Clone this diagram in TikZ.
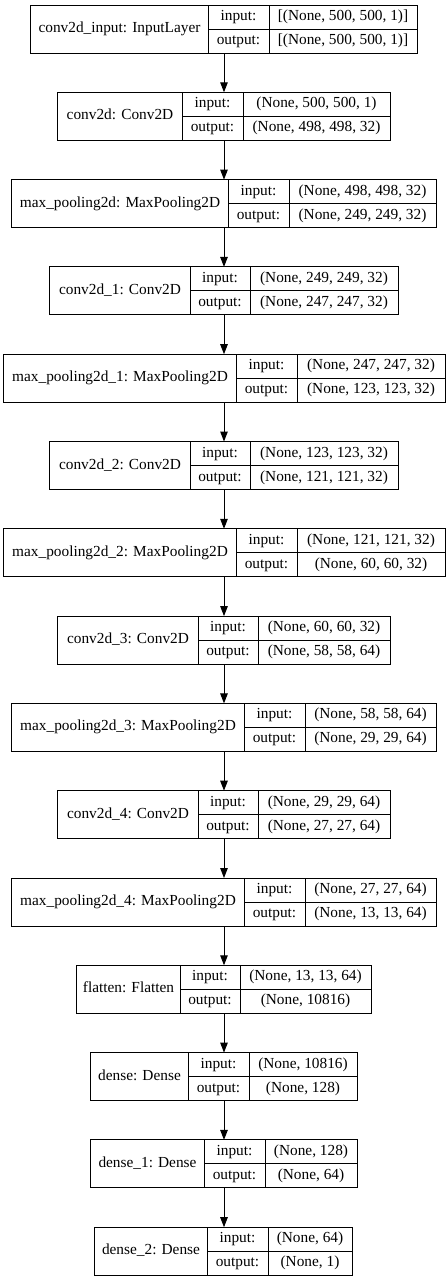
\documentclass[tikz,border=0pt]{standalone}
\usepackage{fontspec}
\setmainfont{Liberation Serif}
\usetikzlibrary{arrows.meta}
\tikzset{
  layerbox/.style={draw, line width=1bp, inner sep=0pt, minimum height=48bp},
  divline/.style={line width=1bp},
  txt/.style={inner sep=0pt, font=\fontsize{15.4}{17}\selectfont, text height=10bp, text depth=3bp},
  conn/.style={-{Triangle[length=10bp,width=7.5bp]}, line width=1bp}
}
% #1 index, #2 name, #3 left, #4 right, #5 divider1, #6 divider2, #7 label, #8 input, #9 output
\newcommand\netlayer[9]{%
  \pgfmathsetmacro\ltop{5+87.3*#1}%
  \pgfmathsetmacro\lw{#4-#3}%
  \node[layerbox, minimum width=\lw bp] (#2) at ({(#3+#4)/2},{\ltop+24}) {};
  \draw[divline] (#5,\ltop) -- (#5,\ltop+48);
  \draw[divline] (#6,\ltop) -- (#6,\ltop+48);
  \draw[divline] (#5,\ltop+24) -- (#4,\ltop+24);
  \node[txt] (#2-lab) at ({(#3+#5)/2},{\ltop+24}) {#7};
  \node[txt] (#2-ik) at ({(#5+#6)/2},{\ltop+12}) {input:};
  \node[txt] (#2-ok) at ({(#5+#6)/2},{\ltop+36}) {output:};
  \node[txt] (#2-iv) at ({(#6+#4)/2},{\ltop+12}) {#8};
  \node[txt] (#2-ov) at ({(#6+#4)/2},{\ltop+36}) {#9};
  \coordinate (#2-top) at (224,\ltop);
  \coordinate (#2-bot) at (224,\ltop+48);
}
\begin{document}
\begin{tikzpicture}[x=1bp, y=-1bp]
  \useasboundingbox[fill=white] (0,0) rectangle (448,1280);
  \netlayer{0}{L0}{31}{417}{208}{269}{conv2d\_input: InputLayer}{[(None, 500, 500, 1)]}{[(None, 500, 500, 1)]}
  \netlayer{1}{L1}{58}{390}{182}{243}{conv2d: Conv2D}{(None, 500, 500, 1)}{(None, 498, 498, 32)}
  \netlayer{2}{L2}{12}{436}{228}{289}{max\_pooling2d: MaxPooling2D}{(None, 498, 498, 32)}{(None, 249, 249, 32)}
  \netlayer{3}{L3}{50}{398}{190}{250}{conv2d\_1: Conv2D}{(None, 249, 249, 32)}{(None, 247, 247, 32)}
  \netlayer{4}{L4}{4}{445}{236}{297}{max\_pooling2d\_1: MaxPooling2D}{(None, 247, 247, 32)}{(None, 123, 123, 32)}
  \netlayer{5}{L5}{50}{398}{190}{250}{conv2d\_2: Conv2D}{(None, 123, 123, 32)}{(None, 121, 121, 32)}
  \netlayer{6}{L6}{4}{445}{236}{297}{max\_pooling2d\_2: MaxPooling2D}{(None, 121, 121, 32)}{(None, 60, 60, 32)}
  \netlayer{7}{L7}{58}{390}{198}{258}{conv2d\_3: Conv2D}{(None, 60, 60, 32)}{(None, 58, 58, 64)}
  \netlayer{8}{L8}{12}{436}{244}{305}{max\_pooling2d\_3: MaxPooling2D}{(None, 58, 58, 64)}{(None, 29, 29, 64)}
  \netlayer{9}{L9}{58}{390}{198}{258}{conv2d\_4: Conv2D}{(None, 29, 29, 64)}{(None, 27, 27, 64)}
  \netlayer{10}{L10}{12}{436}{244}{305}{max\_pooling2d\_4: MaxPooling2D}{(None, 27, 27, 64)}{(None, 13, 13, 64)}
  \netlayer{11}{L11}{77}{371}{180}{240}{flatten: Flatten}{(None, 13, 13, 64)}{(None, 10816)}
  \netlayer{12}{L12}{91}{357}{188}{249}{dense: Dense}{(None, 10816)}{(None, 128)}
  \netlayer{13}{L13}{91}{357}{204}{265}{dense\_1: Dense}{(None, 128)}{(None, 64)}
  \netlayer{14}{L14}{95}{352}{207}{268}{dense\_2: Dense}{(None, 64)}{(None, 1)}
  \foreach \a/\b in {L0/L1,L1/L2,L2/L3,L3/L4,L4/L5,L5/L6,L6/L7,L7/L8,L8/L9,L9/L10,L10/L11,L11/L12,L12/L13,L13/L14}
    \draw[conn] (\a-bot) -- (\b-top);
\end{tikzpicture}
\end{document}
